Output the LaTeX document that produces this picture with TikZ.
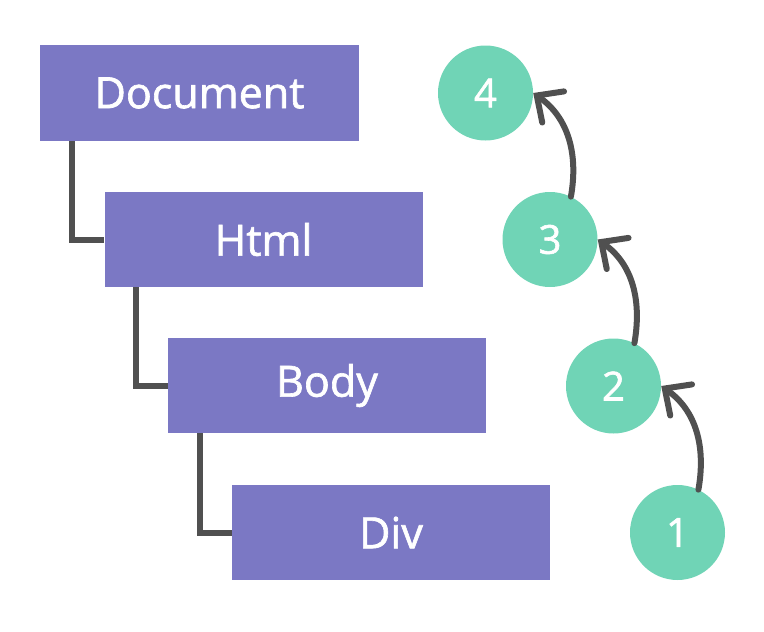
\documentclass[tikz,border=0pt]{standalone}
\usepackage{fontspec}
\setmainfont{Open Sans}
\newfontfamily\labelfont{Open Sans}[RawFeature={embolden=1.5}]
\usetikzlibrary{arrows.meta}
\definecolor{boxpurple}{HTML}{7B78C4}
\definecolor{circteal}{HTML}{70D4B6}
\definecolor{linegray}{HTML}{505050}
\begin{document}
\begin{tikzpicture}[x=1pt,y=1pt,
  dombox/.style={rectangle, fill=boxpurple, draw=none, minimum width=318pt, minimum height=95pt, inner sep=0pt, text=white, font=\labelfont\fontsize{43}{50}\selectfont},
  numcirc/.style={circle, fill=circteal, draw=none, minimum size=95pt, inner sep=0pt, text=white, font=\labelfont\fontsize{40}{46}\selectfont},
  conn/.style={draw=linegray, line width=6pt},
  flow/.style={draw=linegray, line width=6pt, line cap=round, -{Straight Barb[length=20pt, width=38pt, line cap=round]}}
]
\useasboundingbox (0,0) rectangle (764,-632);
\node[dombox, minimum width=319pt, minimum height=96pt] (doc) at (199.5,-93) {Document};
\node[dombox] (html) at (263.5,-239.5) {Html};
\node[dombox] (body) at (327,-385.5) {Body};
\node[dombox] (div) at (391,-532.5) {Div};

\draw[conn] ([xshift=32pt]doc.south west) |- (html.west);
\draw[conn] ([xshift=32pt]html.south west) |- (body.west);
\draw[conn] ([xshift=32pt]body.south west) |- (div.west);

\node[numcirc] (c4) at (485.5,-93) {4};
\node[numcirc] (c3) at (550,-239.5) {3};
\node[numcirc] (c2) at (613.5,-386) {2};
\node[numcirc] (c1) at (677.5,-532.5) {1};

\draw[flow] (c1.64) to[out=80,in=-35] (c2.east);
\draw[flow] (c2.64) to[out=80,in=-35] (c3.east);
\draw[flow] (c3.64) to[out=80,in=-35] (c4.east);
\end{tikzpicture}
\end{document}
